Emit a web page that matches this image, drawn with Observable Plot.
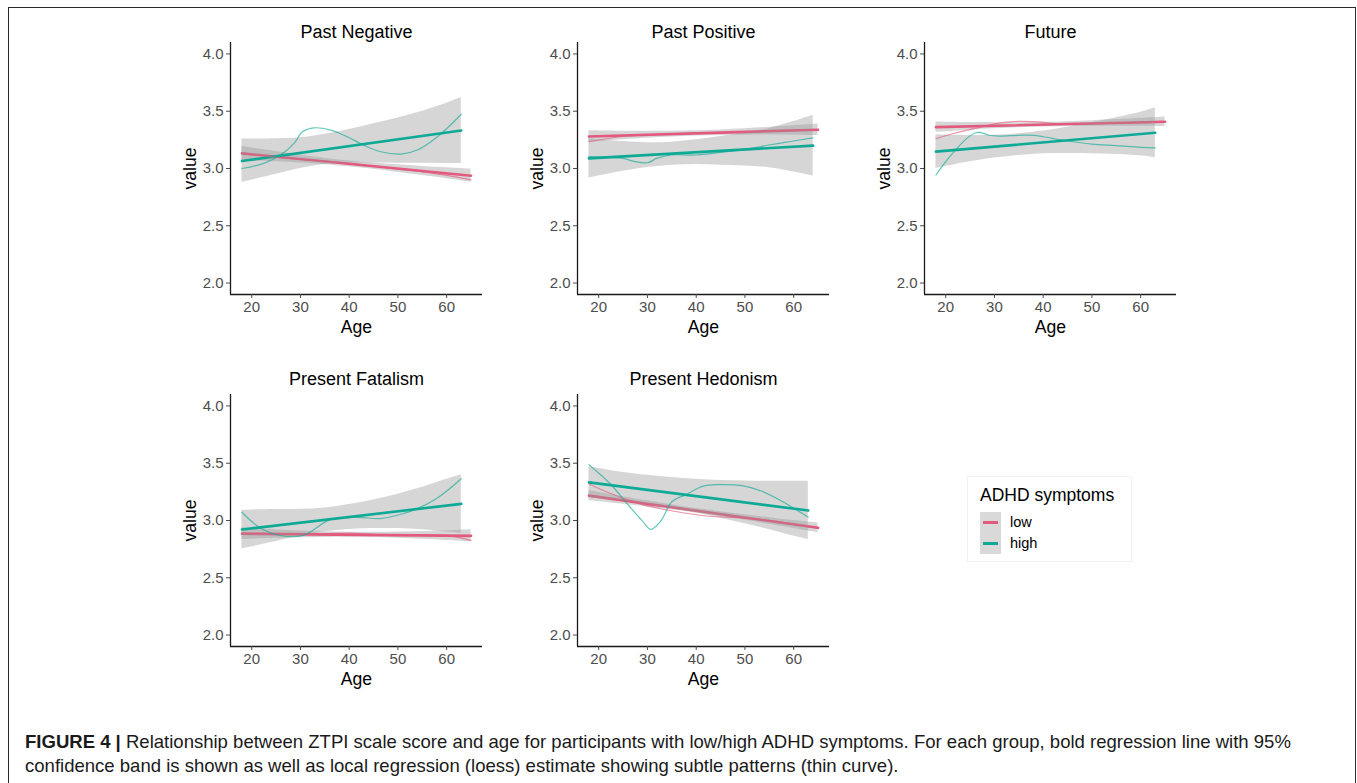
<!DOCTYPE html>
<html><head><meta charset="utf-8">
<script src="https://cdn.jsdelivr.net/npm/d3@7"></script>
<script src="https://cdn.jsdelivr.net/npm/@observablehq/plot@0.6"></script>
<style>
body{margin:0;background:#fff;font-family:"Liberation Sans",Arial,sans-serif;}
#fig{position:relative;width:1357px;height:783px;overflow:hidden;background:#fff;}
#border{position:absolute;left:8px;top:7px;width:1348px;height:820px;border:1.5px solid #2a2a2a;box-sizing:border-box;}
.panel{position:absolute;}
#legend{position:absolute;left:967px;top:476px;width:165px;height:86px;border:1px solid #f0f0f0;box-sizing:border-box;}
#caption{position:absolute;left:25px;top:730px;width:1320px;font-size:18.55px;line-height:24px;color:#1a1a1a;white-space:nowrap;}
</style></head>
<body><div id="fig"><div id="border"></div><div id="legend"></div>
<div id="caption"><b>FIGURE 4 |</b> Relationship between ZTPI scale score and age for participants with low/high ADHD symptoms. For each group, bold regression line with 95%<br>confidence band is shown as well as local regression (loess) estimate showing subtle patterns (thin curve).</div>
</div>
<script>
// ---- data ----
const panelNames = ["Past Negative","Past Positive","Future","Present Fatalism","Present Hedonism"];
const groupNames = ["low","high"];
const groupColors = ["#E25A7E","#0FAA96"];
const legendTitle = "ADHD symptoms";
const xTicks = [20,30,40,50,60];
const yTicks = [2.0,2.5,3.0,3.5,4.0];
const xDomain = [15.65,67.35];
const yDomain = [1.9,4.1];

const bandAgesLow = [18,25,30,35,40,45,50,55,60,65];
const bandAgesHigh = [18,25,30,35,40,45,50,55,60,63];
const bandAgesHighPP = [18,25,30,35,40,45,50,55,60,64];

// Past Negative
const pnFitLow = [[18,3.132],[65,2.937]];
const pnFitHigh = [[18,3.065],[63,3.332]];
const pnBandLow = [[3.070,3.194],[3.058,3.148],[3.047,3.117],[3.033,3.089],[3.016,3.066],[2.993,3.047],[2.966,3.032],[2.938,3.018],[2.910,3.006],[2.880,2.994]];
const pnBandHigh = [[2.879,3.257],[2.950,3.260],[3.000,3.268],[3.035,3.300],[3.045,3.340],[3.047,3.390],[3.046,3.440],[3.045,3.500],[3.043,3.570],[3.042,3.620]];
const pnLoessLow = [[18,3.13],[25,3.10],[30,3.08],[35,3.065],[40,3.045],[45,3.02],[50,2.995],[55,2.97],[60,2.94],[65,2.90]];
const pnLoessHigh = [[18,3.0],[22.5,3.045],[25.9,3.117],[28.7,3.219],[30.4,3.32],[32.8,3.355],[36.2,3.335],[39.6,3.277],[43,3.204],[46.5,3.146],[50.6,3.126],[54,3.161],[58.1,3.277],[63,3.474]];

// Past Positive
const ppFitLow = [[18,3.28],[65,3.338]];
const ppFitHigh = [[18,3.088],[64,3.20]];
const ppBandLow = [[3.230,3.330],[3.252,3.326],[3.265,3.325],[3.276,3.326],[3.284,3.330],[3.289,3.337],[3.291,3.347],[3.292,3.360],[3.291,3.373],[3.288,3.388]];
const ppBandHigh = [[2.916,3.260],[2.975,3.235],[3.009,3.225],[3.028,3.230],[3.034,3.250],[3.028,3.280],[3.022,3.310],[3.006,3.350],[2.970,3.410],[2.935,3.465]];
const ppLoessLow = [[18,3.234],[22,3.262],[25,3.28],[30,3.295],[35,3.303],[40,3.31],[45,3.315],[50,3.32],[55,3.328],[60,3.335],[65,3.34]];
const ppLoessHigh = [[18,3.103],[25,3.088],[27,3.065],[30,3.05],[32,3.09],[35,3.118],[40,3.118],[45,3.14],[50,3.167],[55,3.205],[60,3.24],[64,3.268]];

// Future
const fuFitLow = [[18,3.361],[65,3.408]];
const fuFitHigh = [[18,3.147],[63,3.312]];
const fuBandLow = [[3.316,3.406],[3.335,3.401],[3.346,3.400],[3.356,3.400],[3.363,3.403],[3.367,3.409],[3.369,3.417],[3.369,3.427],[3.368,3.438],[3.366,3.450]];
const fuBandHigh = [[3.000,3.294],[3.058,3.288],[3.091,3.291],[3.114,3.304],[3.128,3.328],[3.131,3.361],[3.129,3.399],[3.123,3.443],[3.111,3.491],[3.094,3.530]];
const fuLoessLow = [[18,3.26],[22,3.31],[26,3.35],[30,3.39],[34,3.41],[38,3.41],[42,3.395],[46,3.385],[50,3.39],[55,3.395],[60,3.40],[65,3.41]];
const fuLoessHigh = [[18,2.943],[20,3.06],[22,3.16],[24,3.25],[26,3.31],[27,3.315],[29,3.29],[31,3.283],[35,3.29],[38,3.29],[40,3.277],[45,3.24],[50,3.213],[55,3.20],[60,3.185],[63,3.18]];

// Present Fatalism
const pfFitLow = [[18,2.884],[65,2.866]];
const pfFitHigh = [[18,2.921],[63,3.145]];
const pfBandLow = [[2.832,2.936],[2.844,2.918],[2.849,2.909],[2.852,2.902],[2.854,2.898],[2.851,2.897],[2.845,2.899],[2.837,2.903],[2.826,2.910],[2.812,2.920]];
const pfBandHigh = [[2.752,3.090],[2.817,3.095],[2.864,3.098],[2.902,3.110],[2.922,3.140],[2.930,3.180],[2.930,3.230],[2.920,3.290],[2.900,3.360],[2.890,3.400]];
const pfLoessLow = [[18,2.89],[25,2.885],[30,2.88],[35,2.885],[40,2.89],[45,2.88],[50,2.87],[55,2.875],[60,2.87],[65,2.826]];
const pfLoessHigh = [[18,3.072],[21.7,2.936],[25.8,2.869],[30.6,2.87],[36.1,3.008],[41.6,3.028],[46.4,3.017],[50.5,3.052],[54,3.104],[58.1,3.197],[63,3.365]];

// Present Hedonism
const phFitLow = [[18,3.217],[65,2.936]];
const phFitHigh = [[18,3.333],[63,3.087]];
const phBandLow = [[3.172,3.262],[3.142,3.208],[3.118,3.172],[3.093,3.137],[3.065,3.105],[3.035,3.077],[3.002,3.050],[2.967,3.025],[2.931,3.001],[2.893,2.979]];
const phBandHigh = [[3.196,3.470],[3.170,3.420],[3.139,3.395],[3.105,3.375],[3.066,3.360],[3.020,3.350],[2.971,3.345],[2.920,3.342],[2.864,3.342],[2.832,3.342]];
const phLoessLow = [[18,3.319],[22.2,3.24],[29,3.139],[35.5,3.081],[42.6,3.037],[49.4,3.023],[56.2,2.994],[65,2.93]];
const phLoessHigh = [[18,3.487],[22.2,3.327],[26.3,3.124],[29,2.994],[30.7,2.922],[32.7,2.994],[35.1,3.168],[37.9,3.226],[41.3,3.298],[44.7,3.313],[49.4,3.304],[53.5,3.255],[57.6,3.168],[63,3.029]];

// ---- assembly ----
const panels = [
  {fit:[pnFitLow,pnFitHigh], band:[pnBandLow,pnBandHigh], ages:[bandAgesLow,bandAgesHigh], loess:[pnLoessLow,pnLoessHigh]},
  {fit:[ppFitLow,ppFitHigh], band:[ppBandLow,ppBandHigh], ages:[bandAgesLow,bandAgesHighPP], loess:[ppLoessLow,ppLoessHigh]},
  {fit:[fuFitLow,fuFitHigh], band:[fuBandLow,fuBandHigh], ages:[bandAgesLow,bandAgesHigh], loess:[fuLoessLow,fuLoessHigh]},
  {fit:[pfFitLow,pfFitHigh], band:[pfBandLow,pfBandHigh], ages:[bandAgesLow,bandAgesHigh], loess:[pfLoessLow,pfLoessHigh]},
  {fit:[phFitLow,phFitHigh], band:[phBandLow,phBandHigh], ages:[bandAgesLow,bandAgesHigh], loess:[phLoessLow,phLoessHigh]}
];
const panelLeft = [160,507,854,160,507];
const panelTop = [2,2,2,354,354];
const titleOffset = [-10,-10,-10,-15,-15];
const font = "Liberation Sans, Arial, sans-serif";
const fig = document.getElementById("fig");

panels.forEach((p, k) => {
  const marks = [];
  for (let g = 0; g < 2; g++) {
    const rows = p.ages[g].map((a, i) => ({age: a, lo: p.band[g][i][0], hi: p.band[g][i][1]}));
    marks.push(Plot.areaY(rows, {x: "age", y1: "lo", y2: "hi", fill: "#999999", fillOpacity: 0.4, curve: "catmull-rom"}));
    marks.push(Plot.line(p.fit[g], {x: d => d[0], y: d => d[1], stroke: groupColors[g], strokeWidth: 2.6}));
  }
  for (let g = 0; g < 2; g++) {
    marks.push(Plot.line(p.loess[g], {x: d => d[0], y: d => d[1], stroke: groupColors[g], strokeWidth: 1.2, strokeOpacity: 0.65, curve: "catmull-rom"}));
  }
  marks.push(Plot.ruleX([xDomain[0]], {stroke: "#1a1a1a", strokeWidth: 1.3}));
  marks.push(Plot.ruleY([yDomain[0]], {stroke: "#1a1a1a", strokeWidth: 1.3}));
  marks.push(Plot.axisY({ticks: yTicks, tickFormat: d3.format(".1f"), tickSize: 4, tickPadding: 3, fontSize: 15, color: "#4d4d4d", label: null}));
  marks.push(Plot.axisX({ticks: xTicks, tickSize: 4, tickPadding: 3, fontSize: 15, color: "#4d4d4d", label: null}));
  marks.push(Plot.text([panelNames[k]], {text: d => d, frameAnchor: "top", lineAnchor: "middle", textAnchor: "middle", dy: titleOffset[k], fontSize: 18, fill: "#000"}));
  marks.push(Plot.text(["Age"], {text: d => d, frameAnchor: "bottom", lineAnchor: "middle", textAnchor: "middle", dy: 33, fontSize: 17.6, fill: "#000"}));
  marks.push(Plot.text(["value"], {text: d => d, frameAnchor: "left", lineAnchor: "middle", textAnchor: "middle", dx: -40, rotate: -90, fontSize: 17.6, fill: "#000"}));
  const svg = Plot.plot({
    width: 332, height: 342,
    marginLeft: 70, marginRight: 10, marginTop: 40, marginBottom: 50,
    x: {domain: xDomain},
    y: {domain: yDomain},
    style: {fontFamily: font, background: "transparent", overflow: "visible"},
    marks
  });
  const wrap = document.createElement("div");
  wrap.className = "panel";
  wrap.style.left = panelLeft[k] + "px";
  wrap.style.top = panelTop[k] + "px";
  wrap.appendChild(svg);
  fig.appendChild(wrap);
});

// legend
const lg = document.getElementById("legend");
const t = document.createElement("div");
t.textContent = legendTitle;
t.style.cssText = "position:absolute;left:12px;top:8px;font-size:17.5px;color:#000;white-space:nowrap";
lg.appendChild(t);
groupNames.forEach((name, i) => {
  const key = document.createElement("div");
  key.style.cssText = `position:absolute;left:12px;top:${35 + i * 21}px;width:21px;height:21px;background:#d9d9d9`;
  const ln = document.createElement("div");
  ln.style.cssText = `position:absolute;left:3px;top:9px;width:15px;height:2.5px;background:${groupColors[i]}`;
  key.appendChild(ln);
  lg.appendChild(key);
  const lab = document.createElement("div");
  lab.textContent = name;
  lab.style.cssText = `position:absolute;left:42px;top:${37 + i * 21}px;font-size:14.5px;color:#000`;
  lg.appendChild(lab);
});
</script>
</body></html>
